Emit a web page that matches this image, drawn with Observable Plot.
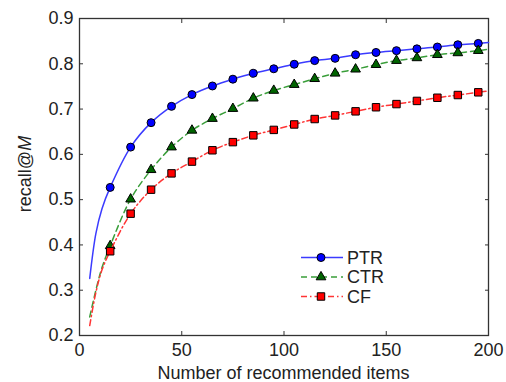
<!DOCTYPE html>
<html><head><meta charset="utf-8">
<script src="https://cdn.jsdelivr.net/npm/d3@7"></script>
<script src="https://cdn.jsdelivr.net/npm/@observablehq/plot@0.6"></script>
<style>body{margin:0;background:#fff;} #chart svg{display:block;}</style>
</head><body><div id="chart"></div>
<script>
// ---- data ----
const series = ["PTR", "CTR", "CF"];
const markerX = [15,25,35,45,55,65,75,85,95,105,115,125,135,145,155,165,175,185,195];
const ptrMarkers = [0.527,0.616,0.670,0.706,0.732,0.751,0.766,0.779,0.789,0.799,0.807,0.812,0.820,0.825,0.829,0.833,0.837,0.842,0.845];
const ctrMarkers = [0.398,0.501,0.566,0.616,0.653,0.679,0.701,0.724,0.741,0.754,0.767,0.779,0.788,0.798,0.807,0.813,0.820,0.824,0.829];
const cfMarkers  = [0.386,0.469,0.522,0.558,0.584,0.609,0.627,0.642,0.654,0.666,0.678,0.686,0.695,0.704,0.711,0.718,0.725,0.731,0.737];
const lineX = [5,8,11,15,25,35,45,55,65,75,85,95,105,115,125,135,145,155,165,175,185,195,200];
const ptrLine = [0.326,0.425,0.480,0.527,0.616,0.670,0.706,0.732,0.751,0.766,0.779,0.789,0.799,0.807,0.812,0.820,0.825,0.829,0.833,0.837,0.842,0.845,0.847];
const ctrLine = [0.241,0.300,0.350,0.398,0.501,0.566,0.616,0.653,0.679,0.701,0.724,0.741,0.754,0.767,0.779,0.788,0.798,0.807,0.813,0.820,0.824,0.829,0.832];
const cfLine  = [0.222,0.295,0.345,0.386,0.469,0.522,0.558,0.584,0.609,0.627,0.642,0.654,0.666,0.678,0.686,0.695,0.704,0.711,0.718,0.725,0.731,0.737,0.740];
const xTicks = [0, 50, 100, 150, 200];
const yTicks = [0.2, 0.3, 0.4, 0.5, 0.6, 0.7, 0.8, 0.9];
const xLabel = "Number of recommended items";
const yLabelMain = "recall@";
const yLabelItalic = "M";

// ---- styles ----
const styles = {
  PTR: {line: "#3b3bff", fill: "#0000ff", symbol: "circle", r: 4, dash: null},
  CTR: {line: "#3a9e3a", fill: "#006400", symbol: "triangle", r: 3.6, dash: "6,4"},
  CF:  {line: "#ff3535", fill: "#ff0000", symbol: "square", r: 4.2, dash: "6,3,1.5,3"}
};
const lineVals = {PTR: ptrLine, CTR: ctrLine, CF: cfLine};
const markVals = {PTR: ptrMarkers, CTR: ctrMarkers, CF: cfMarkers};

const lineData = series.map(s => lineX.map((x, i) => ({x, y: lineVals[s][i], s})));
const markData = series.map(s => markerX.map((x, i) => ({x, y: markVals[s][i], s})));

const font = "'Liberation Sans', Arial, sans-serif";
const fmt = d3.format(".1f");

const marks = [
  Plot.frame({stroke: "#333", strokeWidth: 1.3}),
  Plot.axisX(xTicks, {anchor: "bottom", tickSize: 4, dy: -4, tickPadding: 8, label: null, stroke: "#333"}),
  Plot.axisX(xTicks, {anchor: "top", tickSize: 4, dy: 4, tickFormat: () => "", label: null, stroke: "#333"}),
  Plot.axisY(yTicks, {anchor: "left", tickSize: 4, dx: 4, tickPadding: 6, tickFormat: fmt, label: null, stroke: "#333"}),
  Plot.axisY(yTicks, {anchor: "right", tickSize: 4, dx: -4, tickFormat: () => "", label: null, stroke: "#333"})
];
series.forEach((s, k) => {
  const st = styles[s];
  marks.push(Plot.line(lineData[k], {x: "x", y: "y", stroke: st.line, strokeWidth: 1.5, strokeDasharray: st.dash, curve: "catmull-rom"}));
  marks.push(Plot.dot(markData[k], {x: "x", y: "y", symbol: st.symbol, r: st.r, fill: st.fill, stroke: "#000", strokeWidth: 1}));
});

const plot = Plot.plot({
  width: 506, height: 382,
  marginLeft: 79, marginRight: 18, marginTop: 18, marginBottom: 47,
  style: {fontFamily: font, fontSize: "18px", color: "#222", background: "#fff"},
  x: {domain: [0, 200]},
  y: {domain: [0.2, 0.9]},
  marks
});
document.getElementById("chart").appendChild(plot);

// axis titles
const svg = d3.select(plot);
svg.append("text").attr("x", 283.5).attr("y", 378.5).attr("text-anchor", "middle")
  .attr("font-family", font).attr("font-size", 18).attr("fill", "#222").text(xLabel);
const yl = svg.append("text").attr("transform", "translate(31,174) rotate(-90)").attr("text-anchor", "middle")
  .attr("font-family", font).attr("font-size", 18).attr("fill", "#222");
yl.append("tspan").text(yLabelMain);
yl.append("tspan").attr("font-style", "italic").text(yLabelItalic);

// legend
const leg = svg.append("g").attr("font-family", font).attr("font-size", 18).attr("fill", "#222").attr("text-anchor", "start");
series.forEach((s, k) => {
  const st = styles[s];
  const y = 257.5 + k * 19.5;
  leg.append("line").attr("x1", 301).attr("x2", 343).attr("y1", y).attr("y2", y)
    .attr("stroke", st.line).attr("stroke-width", 1.5).attr("stroke-dasharray", st.dash);
  const sym = {circle: d3.symbolCircle, triangle: d3.symbolTriangle, square: d3.symbolSquare}[st.symbol];
  leg.append("path").attr("d", d3.symbol(sym, Math.PI * st.r * st.r)()).attr("transform", `translate(321,${y})`)
    .attr("fill", st.fill).attr("stroke", "#000").attr("stroke-width", 1);
  leg.append("text").attr("x", 347).attr("y", y).attr("dy", "0.35em").attr("text-anchor", "start").text(s);
});
</script>
</body></html>
